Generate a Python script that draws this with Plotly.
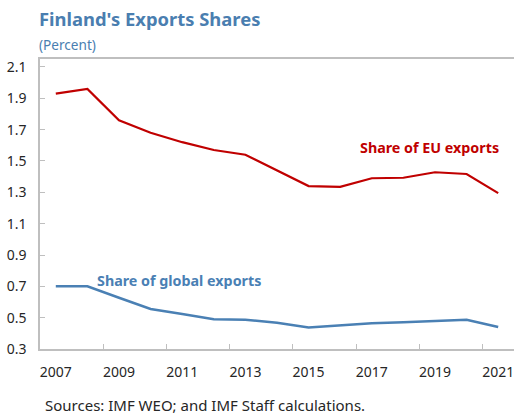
import plotly.graph_objects as go

years = list(range(2007, 2022))
eu_share = [1.93, 1.96, 1.76, 1.68, 1.62, 1.57, 1.54, 1.44, 1.34, 1.335, 1.39, 1.393, 1.428, 1.417, 1.295]
global_share = [0.70, 0.70, 0.627, 0.555, 0.523, 0.49, 0.487, 0.468, 0.438, 0.449, 0.464, 0.47, 0.48, 0.487, 0.44]
x_tick_labels = [str(y) for y in range(2007, 2022, 2)]
y_ticks = [0.3, 0.5, 0.7, 0.9, 1.1, 1.3, 1.5, 1.7, 1.9, 2.1]

RED = "#C00000"
BLUE = "#4A80B4"
TITLE_BLUE = "#4A7EB0"
AXIS = "#BFBFBF"
FONT = "Noto Sans"

fig = go.Figure()
fig.add_trace(go.Scatter(x=years, y=eu_share, mode="lines",
                         line=dict(color=RED, width=2.2), name="Share of EU exports"))
fig.add_trace(go.Scatter(x=years, y=global_share, mode="lines",
                         line=dict(color=BLUE, width=2.5), name="Share of global exports"))

fig.update_layout(
    width=514, height=415,
    margin=dict(l=40, r=0, t=59, b=66),
    paper_bgcolor="white", plot_bgcolor="white",
    showlegend=False,
    font=dict(family=FONT, size=12, color="#262626"),
    xaxis=dict(
        range=[2006.5, 2021.5],
        tickvals=[int(t) for t in x_tick_labels], ticktext=x_tick_labels,
        ticks="", showgrid=False, zeroline=False,
        showline=True, linecolor=AXIS, linewidth=1.5, mirror=True,
        tickfont=dict(size=14, color="#262626"),
        ticklabeloverflow="allow",
        minor=dict(tickvals=[y + 0.5 for y in range(2008, 2021, 2)],
                   ticks="inside", ticklen=5, tickcolor=AXIS, tickwidth=1, showgrid=False),
        ticklabelstandoff=9,
    ),
    yaxis=dict(
        range=[0.3, 2.151],
        tickvals=y_ticks, ticktext=[f"{v:.1f}" for v in y_ticks],
        ticks="inside", ticklen=5, tickcolor=AXIS, tickwidth=1,
        showgrid=False, zeroline=False,
        showline=True, linecolor=AXIS, linewidth=1.5,
        tickfont=dict(size=14, color="#262626"),
        ticklabelstandoff=9,
    ),
)

fig.add_annotation(xref="paper", yref="paper", x=-3/474, y=1 + (59 - 18) / 290,
                   text="<b>Finland's Exports Shares</b>", showarrow=False,
                   xanchor="left", yanchor="middle",
                   font=dict(family=FONT, size=18.4, color=TITLE_BLUE))
fig.add_annotation(xref="paper", yref="paper", x=-3/474, y=1 + (59 - 44) / 290,
                   text="(Percent)", showarrow=False,
                   xanchor="left", yanchor="middle",
                   font=dict(family=FONT, size=13.6, color=TITLE_BLUE))
fig.add_annotation(xref="x", yref="y", x=2021.09, y=1.583,
                   text="<b>Share of EU exports</b>", showarrow=False,
                   xanchor="right", yanchor="middle",
                   font=dict(family=FONT, size=14.3, color=RED))
fig.add_annotation(xref="x", yref="y", x=2008.24, y=0.74,
                   text="<b>Share of global exports</b>", showarrow=False,
                   xanchor="left", yanchor="middle",
                   font=dict(family=FONT, size=14.3, color=BLUE))
fig.add_annotation(xref="paper", yref="paper", x=3/474, y=-(405 - 349) / 290,
                   text="Sources: IMF WEO; and IMF Staff calculations.", showarrow=False,
                   xanchor="left", yanchor="middle",
                   font=dict(family=FONT, size=15, color="#262626"))

fig.write_html("out.html", config={"displayModeBar": False},
               post_script="document.body.style.margin='0';document.body.style.overflow='hidden';")
